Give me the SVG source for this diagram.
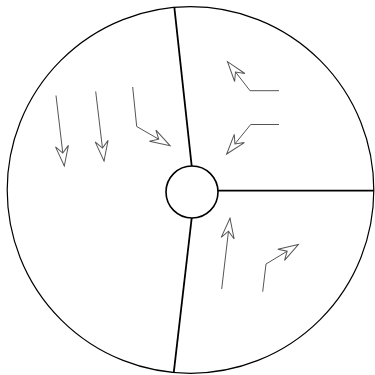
<svg xmlns="http://www.w3.org/2000/svg" width="375" height="375" viewBox="0 0 375 375">
  <style>
    .rim { fill: #fff; stroke: #000; stroke-width: 1.2; }
    .div { stroke: #000; stroke-width: 1.8; fill: none; }
    .hub { fill: #fff; stroke: #000; stroke-width: 1.6; }
    .arr { fill: none; stroke: #555; stroke-width: 1; marker-end: url(#head); }
  </style>
  <defs>
    <marker id="head" markerUnits="userSpaceOnUse" markerWidth="30" markerHeight="30" viewBox="-25 -10 30 20" refX="0" refY="0" orient="auto" overflow="visible">
      <path d="M0,0 L-20,-6.5 L-13,0 L-20,6.5 Z" fill="#fff" stroke="#555" stroke-width="1"/>
    </marker>
  </defs>
  <rect width="375" height="375" fill="#fff"/>
  <g id="wheel">
    <circle class="rim" cx="190.5" cy="190" r="183.3"/>
  </g>
  <g id="dividers">
    <line class="div" x1="174.3" y1="7" x2="191.7" y2="166"/>
    <line class="div" x1="218" y1="190.7" x2="374" y2="190.7"/>
    <line class="div" x1="191.7" y1="218" x2="173.7" y2="373"/>
  </g>
  <g id="hub">
    <circle class="hub" cx="192" cy="192" r="26"/>
  </g>
  <g id="connectors">
    <path class="arr" d="M56,95.5 L64.3,166"/>
    <path class="arr" d="M95.7,91.5 L104,161"/>
    <path class="arr" d="M132.7,87 L136.7,126.5 L170,145.7"/>
    <path class="arr" d="M279,90.7 L250,90.7 L227.5,61.7"/>
    <path class="arr" d="M279,124.5 L250.7,124.5 L226.7,154"/>
    <path class="arr" d="M221.7,289 L230,218.3"/>
    <path class="arr" d="M262.7,291.7 L266,264 L298.3,244.5"/>
  </g>
</svg>
